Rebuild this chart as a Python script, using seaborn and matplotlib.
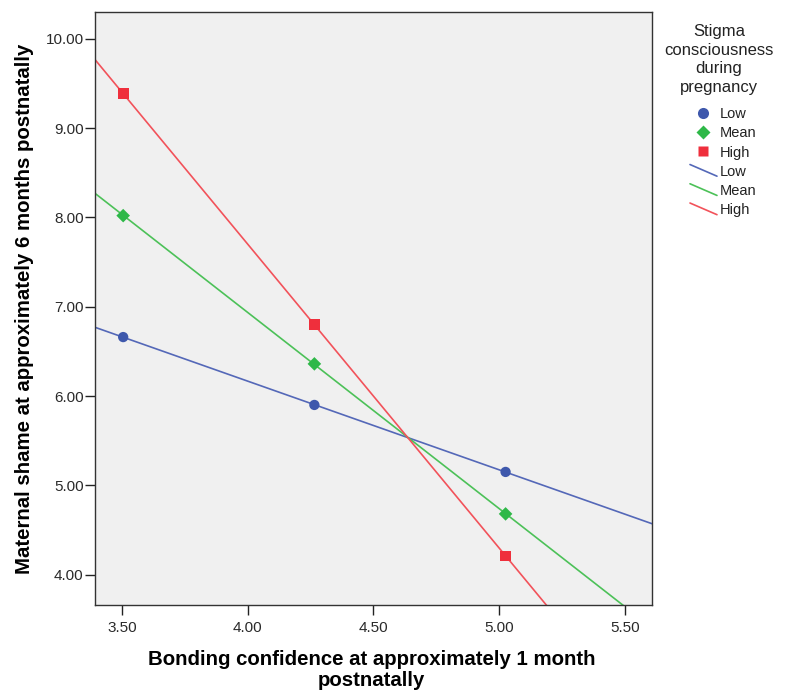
import matplotlib
matplotlib.use("Agg")
import matplotlib.pyplot as plt
from matplotlib.lines import Line2D
from matplotlib.legend_handler import HandlerBase
import pandas as pd
import seaborn as sns

# Predicted maternal shame at low / mean / high bonding confidence
bonding = [3.505, 4.265, 5.025]
shame_low = [6.66, 5.90, 5.15]
shame_mean = [8.02, 6.36, 4.68]
shame_high = [9.385, 6.80, 4.21]
levels = ["Low", "Mean", "High"]

x_ticks = [3.50, 4.00, 4.50, 5.00, 5.50]
y_ticks = [4.00, 5.00, 6.00, 7.00, 8.00, 9.00, 10.00]

df = pd.DataFrame({
    "bonding": bonding * 3,
    "shame": shame_low + shame_mean + shame_high,
    "level": [lv for lv in levels for _ in bonding],
})

marker_colors = {"Low": "#3E58AC", "Mean": "#2EB848", "High": "#EF2F3C"}
line_colors = {"Low": "#5468B8", "Mean": "#4CC158", "High": "#F2525A"}
markers = {"Low": "o", "Mean": "D", "High": "s"}
marker_sizes = {"Low": 55, "Mean": 48, "High": 60}
legend_msizes = {"Low": 8, "Mean": 6.8, "High": 7.4}


class SlantedLine(HandlerBase):
    """Legend key drawn as a short descending line segment."""

    def create_artists(self, legend, orig, xdescent, ydescent, width, height,
                       fontsize, trans):
        mid = height / 2 - ydescent
        line = Line2D([-xdescent, -xdescent + width],
                      [mid + 0.42 * fontsize, mid - 0.38 * fontsize],
                      color=orig.get_color(), lw=orig.get_linewidth(),
                      transform=trans)
        return [line]


sns.set_theme(style="white")
plt.rcParams["font.family"] = ["Liberation Sans", "DejaVu Sans"]

fig = plt.figure(figsize=(7.89, 6.91), dpi=100)
ax = fig.add_axes([95 / 789, 1 - 605 / 691, 557 / 789, 593 / 691])
ax.set_facecolor("#F0F0F0")

xlim = (3.393, 5.607)
ylim = (3.66, 10.30)
ax.set_xlim(*xlim)
ax.set_ylim(*ylim)

# Fitted lines for each level, extended across the full axis range
for lv in levels:
    sub = df[df["level"] == lv]
    sns.regplot(data=sub, x="bonding", y="shame", ax=ax, ci=None, truncate=False,
                scatter=False, line_kws={"color": line_colors[lv], "lw": 1.2})

for lv in levels:
    sub = df[df["level"] == lv]
    sns.scatterplot(data=sub, x="bonding", y="shame", ax=ax, marker=markers[lv],
                    color=marker_colors[lv], s=marker_sizes[lv], edgecolor="none",
                    zorder=5, legend=False)

ax.set_xlim(*xlim)
ax.set_ylim(*ylim)
ax.set_xticks(x_ticks)
ax.set_xticklabels([f"{v:.2f}" for v in x_ticks])
ax.set_yticks(y_ticks)
ax.set_yticklabels([f"{v:.2f}" for v in y_ticks])
ax.tick_params(axis="both", which="major", direction="out", length=7.2, width=1,
               color="#222222", labelsize=11, labelcolor="#2A2A2A",
               bottom=True, left=True)
ax.tick_params(axis="x", pad=4)
ax.tick_params(axis="y", pad=1)
for sp in ax.spines.values():
    sp.set_color("#333333")
    sp.set_linewidth(1.0)

ax.set_xlabel("Bonding confidence at approximately 1 month\npostnatally",
              fontsize=14.7, fontweight="bold", color="black",
              linespacing=1.13, va="center")
ax.xaxis.set_label_coords(0.497, -0.1095)
ax.set_ylabel("Maternal shame at approximately 6 months postnatally",
              fontsize=14.7, fontweight="bold", color="black", va="center")
ax.yaxis.set_label_coords(-0.126, 0.5)

# Legend: title block, then marker keys and line keys
fig.text(719 / 789, 1 - 24 / 691, "Stigma\nconsciousness\nduring\npregnancy",
         ha="center", va="top", fontsize=12, color="#222222", linespacing=1.3,
         multialignment="center")

handles = []
labels = []
for lv in levels:
    handles.append(Line2D([], [], ls="none", marker=markers[lv],
                          markersize=legend_msizes[lv],
                          markerfacecolor=marker_colors[lv], markeredgecolor="none"))
    labels.append(lv)
line_handles = []
for lv in levels:
    h = Line2D([], [], color=line_colors[lv], lw=1.2)
    line_handles.append(h)
    handles.append(h)
    labels.append(lv)

leg = fig.legend(handles, labels, loc="upper left",
                 bbox_to_anchor=(690 / 789, 1 - 107 / 691), frameon=False,
                 fontsize=10.5, handlelength=1.85, handletextpad=0.2,
                 labelspacing=0.36, borderpad=0, borderaxespad=0,
                 handler_map={h: SlantedLine() for h in line_handles})
for t in leg.get_texts():
    t.set_color("#222222")

fig.savefig("out.png", dpi=100, facecolor="white")
